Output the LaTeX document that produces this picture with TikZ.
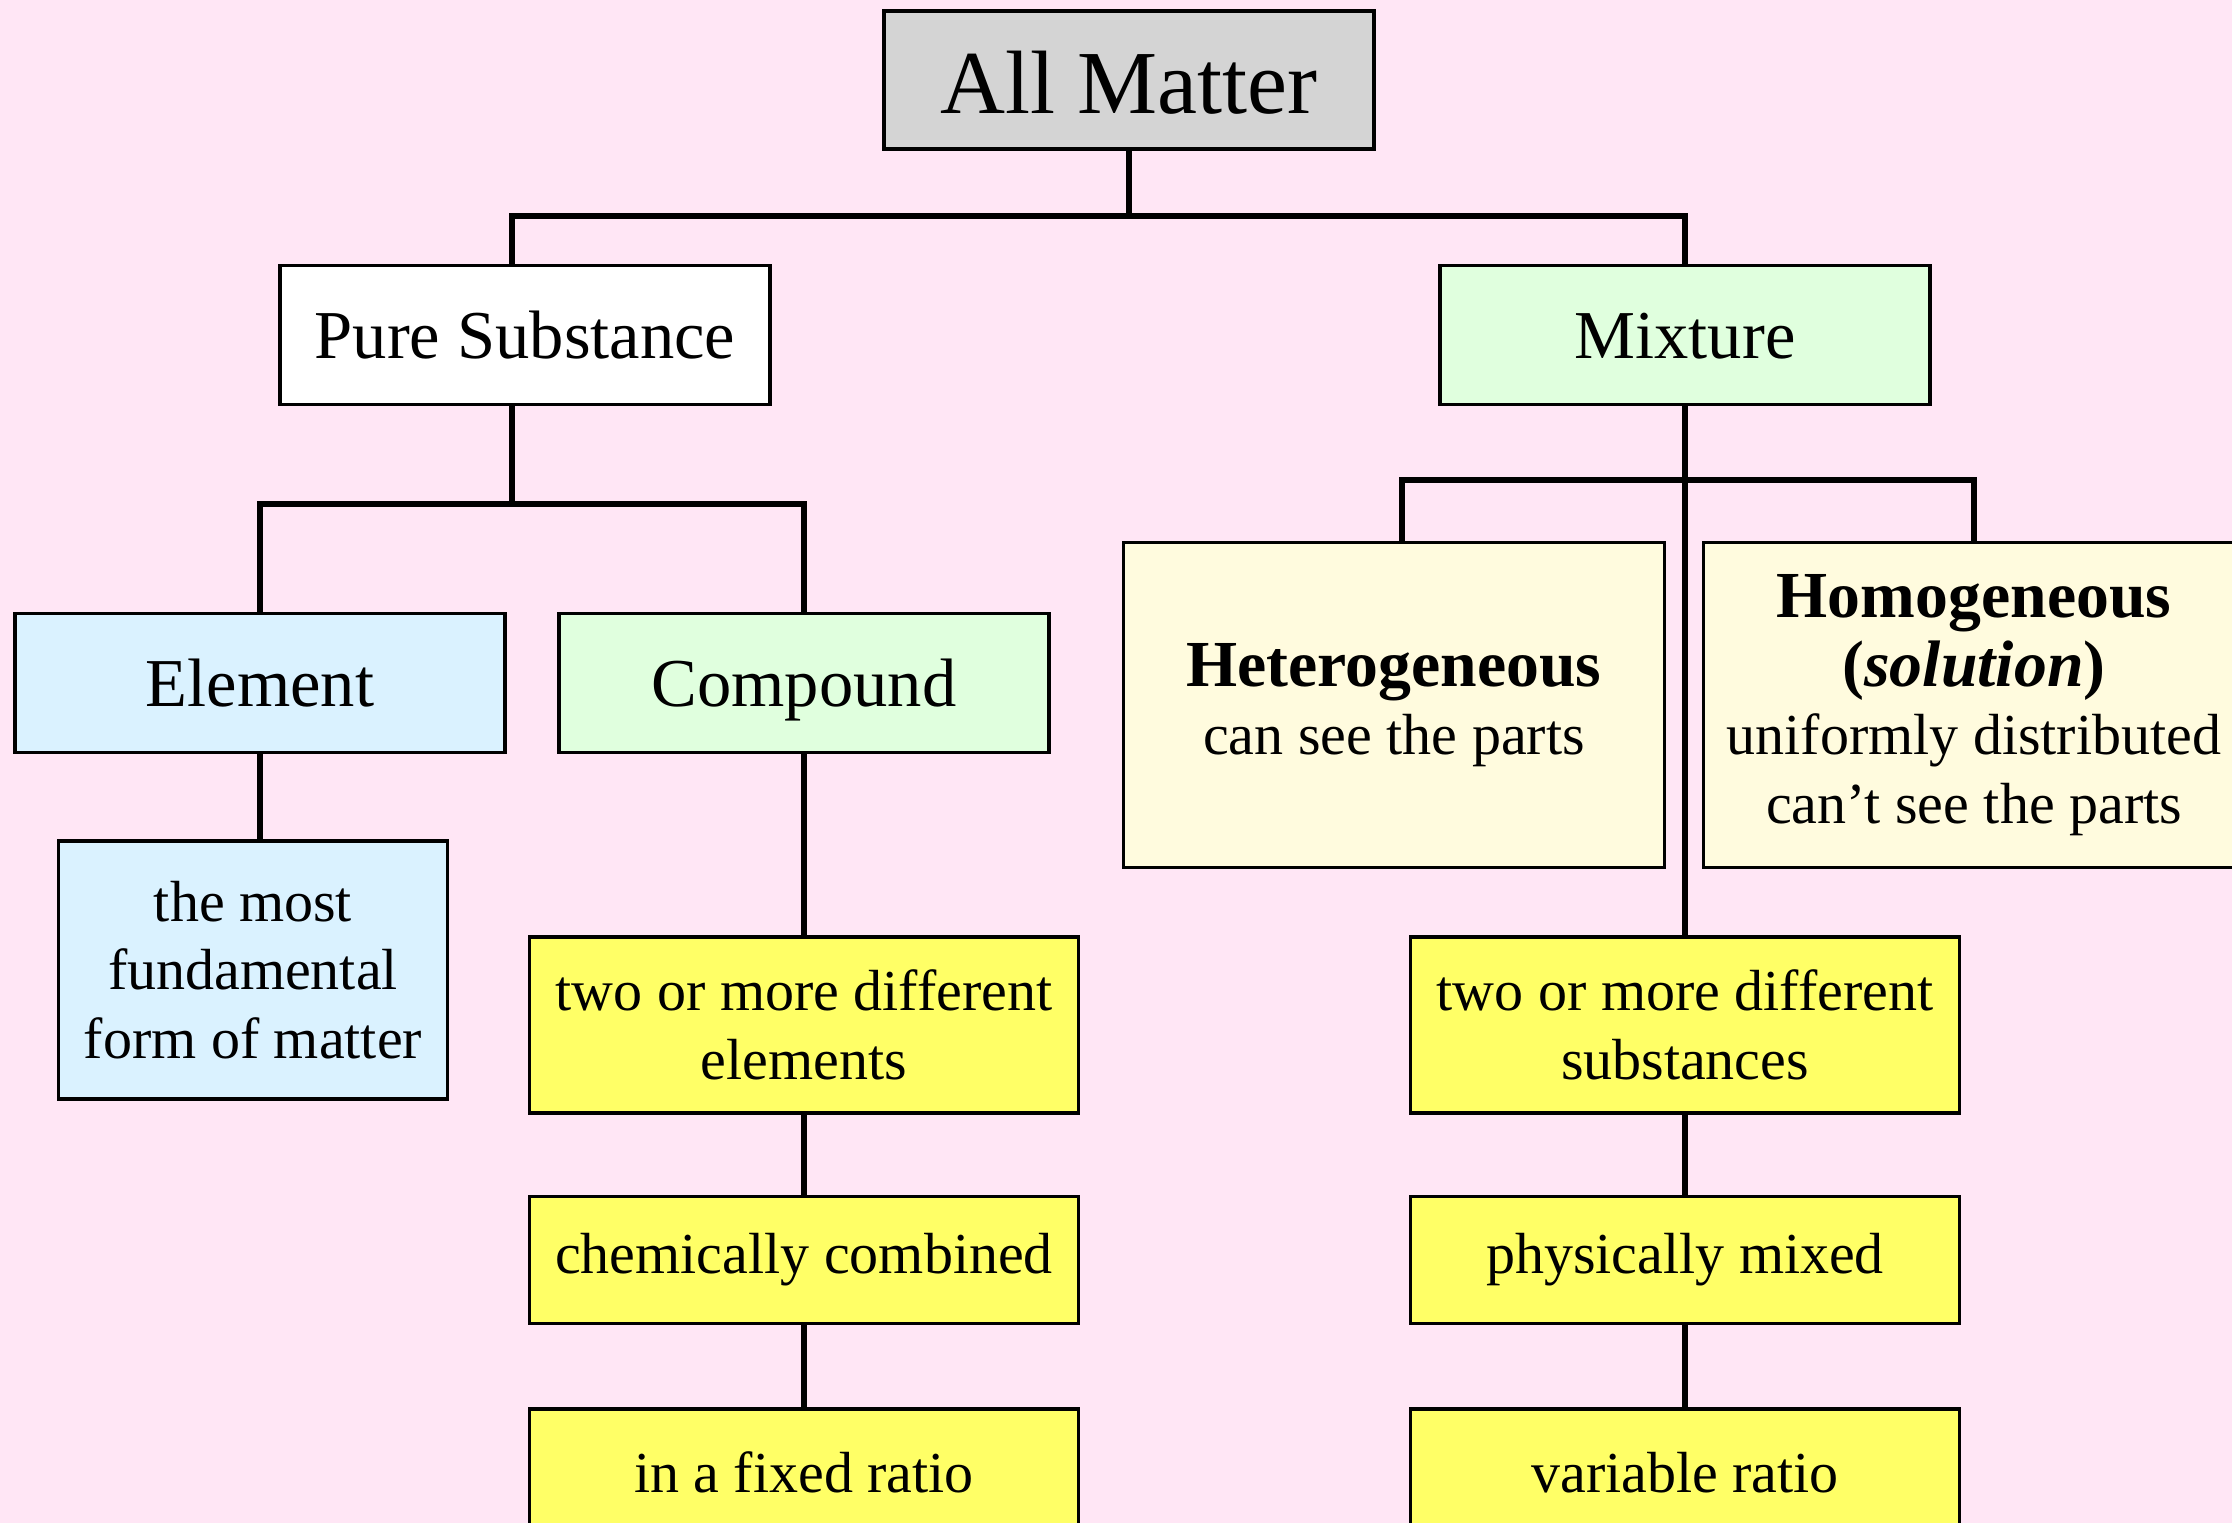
\documentclass[tikz,border=0pt]{standalone}
\usepackage{fontspec}
\setmainfont{Liberation Serif}
\usetikzlibrary{positioning}

\definecolor{pagepink}{RGB}{255,230,245}
\definecolor{allgray}{RGB}{212,212,212}
\definecolor{mixgreen}{RGB}{224,255,222}
\definecolor{elblue}{RGB}{218,242,255}
\definecolor{hetcream}{RGB}{255,251,222}
\definecolor{factyellow}{RGB}{255,255,102}

\newcommand{\boldhead}[1]{{\bfseries\fontsize{18.7}{19.5}\selectfont #1}}

\begin{document}
\begin{tikzpicture}[x=1mm,y=-1mm,
  main box/.style={rectangle,draw,line width=1pt,inner sep=0pt,align=center,
    minimum width=49mm,minimum height=13.9mm,text height=6mm,text depth=1.2mm,
    font=\fontsize{19.5}{23}\selectfont},
  note box/.style={main box,text height=,text depth=,font=\fontsize{16.5}{19.5}\selectfont},
  fact box/.style={note box,fill=factyellow,minimum width=54.9mm,minimum height=12.7mm},
  tree line/.style={line width=1.5pt}]

  \fill[pagepink] (0,0) rectangle (223.2,152.3);
  \useasboundingbox (0,0) rectangle (223.2,152.3);

  \node[main box,fill=allgray,minimum height=13.8mm,text height=8mm,
    font=\fontsize{25.6}{30}\selectfont] (all) at (112.9,8.0) {All Matter};
  \node[main box,fill=white] (pure) at (52.5,33.5) {Pure Substance};
  \node[main box,fill=mixgreen] (mix) at (168.5,33.5) {Mixture};

  \node[main box,fill=elblue] (elem) at (26.0,68.3) {Element};
  \node[main box,fill=mixgreen] (comp) at (80.4,68.3) {Compound};
  \node[note box,fill=hetcream,minimum width=54.1mm,minimum height=32.5mm] (het) at (139.4,70.5)
    {\boldhead{Heterogeneous}\\can see the parts};
  \node[note box,fill=hetcream,minimum width=54.1mm,minimum height=32.5mm] (hom) at (197.4,70.5)
    {\boldhead{Homogeneous}\\\boldhead{(\textit{solution})}\\uniformly distributed\\can’t see the parts};

  \node[note box,fill=elblue,minimum width=38.9mm,minimum height=25.8mm] (most) at (25.3,97.0)
    {the most\\fundamental\\form of matter};

  \node[fact box,minimum height=17.6mm] (twoel) at (80.4,102.5) {two or more different\\elements};
  \node[fact box] (chem) [below=8mm of twoel] {chemically combined};
  \node[fact box] (fixed) [below=8.2mm of chem] {in a fixed ratio};

  \node[fact box,minimum height=17.6mm] (twosub) at (168.5,102.5) {two or more different\\substances};
  \node[fact box] (phys) [below=8mm of twosub] {physically mixed};
  \node[fact box] (var) [below=8.2mm of phys] {variable ratio};

  \coordinate (topfork) at (112.9,21.6);
  \coordinate (purefork) at (51.2,50.4);
  \coordinate (mixfork) at (168.5,48.0);

  \draw[tree line] (all) -- (topfork);
  \draw[tree line] ([xshift=-1.3mm]pure.north) |- (topfork) -| (mix);
  \draw[tree line] ([xshift=-1.3mm]pure.south) -- (purefork);
  \draw[tree line] (elem) |- (purefork) -| (comp);
  \draw[tree line] (elem) -- (elem |- most.north);
  \draw[tree line] ([xshift=0.8mm]het.north) |- (mixfork) -| (hom);
  \draw[tree line] (mix) -- (twosub);
  \draw[tree line] (comp) -- (twoel) -- (chem) -- (fixed);
  \draw[tree line] (twosub) -- (phys) -- (var);
\end{tikzpicture}
\end{document}
